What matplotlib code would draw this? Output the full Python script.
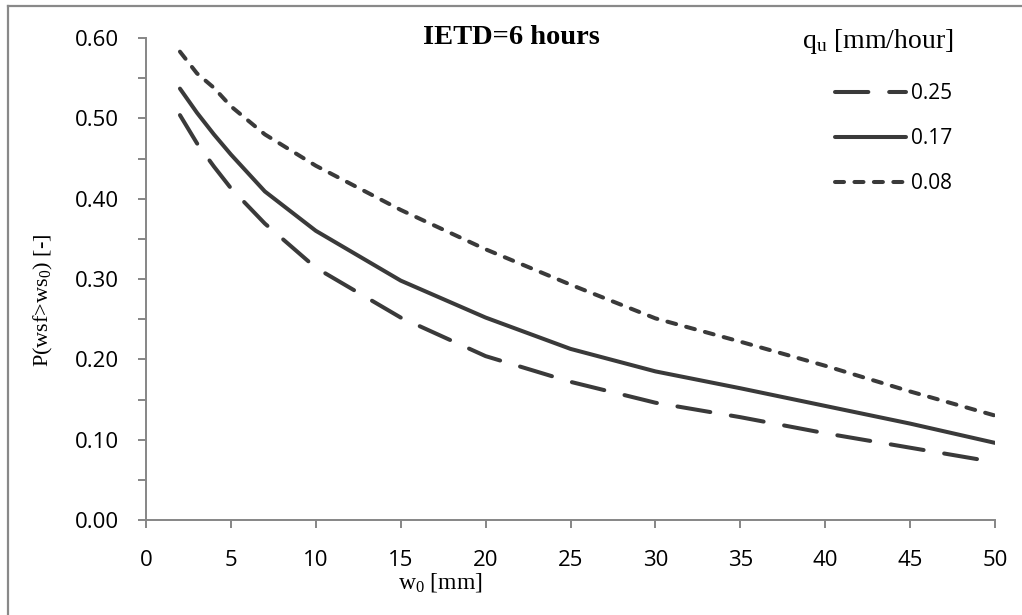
import matplotlib
matplotlib.use('Agg')
import matplotlib.pyplot as plt
from matplotlib.lines import Line2D
from matplotlib.ticker import MultipleLocator, FormatStrFormatter

# w0 [mm]
w0 = [2, 3, 4, 5, 7, 10, 15, 20, 25, 30, 35, 40, 45, 50]

# P(wsf>ws0) for each qu [mm/hour]
p_025 = [0.504, 0.469, 0.440, 0.413, 0.369, 0.314, 0.252, 0.204, 0.172, 0.146, 0.128, 0.108, 0.090, 0.072]
p_017 = [0.537, 0.507, 0.480, 0.455, 0.409, 0.360, 0.298, 0.252, 0.213, 0.185, 0.164, 0.142, 0.120, 0.096]
p_008 = [0.583, 0.556, 0.538, 0.515, 0.480, 0.441, 0.386, 0.337, 0.293, 0.251, 0.222, 0.192, 0.160, 0.130]

series_labels = ['0.25', '0.17', '0.08']

serif_font = 'Liberation Serif'
tick_font = 'Open Sans'
plt.rcParams['lines.scale_dashes'] = False
plt.rcParams['mathtext.fontset'] = 'custom'
plt.rcParams['mathtext.rm'] = serif_font
plt.rcParams['mathtext.it'] = serif_font
plt.rcParams['mathtext.default'] = 'regular'

line_color = '#3a3a3a'
axis_color = '#868686'

W, H = 1022, 615
fig = plt.figure(figsize=(W / 100, H / 100), dpi=100)
ax = fig.add_axes([146 / W, 1 - 520 / H, (995 - 146) / W, (520 - 38) / H])

# grey frame around the chart area
fig.add_artist(Line2D([8 / W, 8 / W], [0, 1 - 6 / H], transform=fig.transFigure,
                      color='#898989', lw=1.6))
fig.add_artist(Line2D([8 / W, 1], [1 - 6 / H, 1 - 6 / H], transform=fig.transFigure,
                      color='#898989', lw=1.6))

lw = 2.9
ax.plot(w0, p_025, color=line_color, lw=lw, dash_capstyle='round',
        dashes=(24, 15), label=series_labels[0])
ax.plot(w0, p_017, color=line_color, lw=lw, solid_capstyle='round',
        label=series_labels[1])
ax.plot(w0, p_008, color=line_color, lw=lw, dash_capstyle='round',
        dashes=(6.5, 7.5), label=series_labels[2])

ax.set_xlim(0, 50)
ax.set_ylim(0, 0.6)
ax.xaxis.set_major_locator(MultipleLocator(5))
ax.yaxis.set_major_locator(MultipleLocator(0.1))
ax.yaxis.set_minor_locator(MultipleLocator(0.05))
ax.yaxis.set_major_formatter(FormatStrFormatter('%.2f'))

for side in ['top', 'right']:
    ax.spines[side].set_visible(False)
for side in ['left', 'bottom']:
    ax.spines[side].set_color(axis_color)
    ax.spines[side].set_linewidth(1.4)

ax.tick_params(axis='both', which='both', direction='out', length=5.5,
               width=1.4, color=axis_color, labelsize=16)
ax.tick_params(axis='x', pad=16)
ax.tick_params(axis='y', pad=14)
for lab in ax.get_xticklabels() + ax.get_yticklabels():
    lab.set_fontfamily(tick_font)

# axis titles sit off-centre in the original
fig.text(440 / W, 1 - 583 / H, 'w$_0$ [mm]', ha='center', va='center',
         fontfamily=serif_font, fontsize=17)
fig.text(43 / W, 1 - 300 / H, 'P(wsf>ws$_0$) [-]', ha='center', va='center',
         rotation=90, fontfamily=serif_font, fontsize=16)

fig.text(511 / W, 1 - 37 / H, 'IETD=6 hours', ha='center', va='center',
         fontfamily=serif_font, fontweight='bold', fontsize=20.5)

# legend
fig.text(878 / W, 1 - 42 / H, 'q$_u$ [mm/hour]', ha='center', va='center',
         fontfamily=serif_font, fontsize=20)
leg = fig.legend(loc='upper left', bbox_to_anchor=(835 / W, 1 - 83 / H),
                 bbox_transform=fig.transFigure, frameon=False,
                 borderpad=0, borderaxespad=0, handlelength=3.4,
                 handletextpad=0.25, labelspacing=1.15,
                 prop={'family': tick_font, 'size': 15})

fig.savefig('out.png', dpi=100)
